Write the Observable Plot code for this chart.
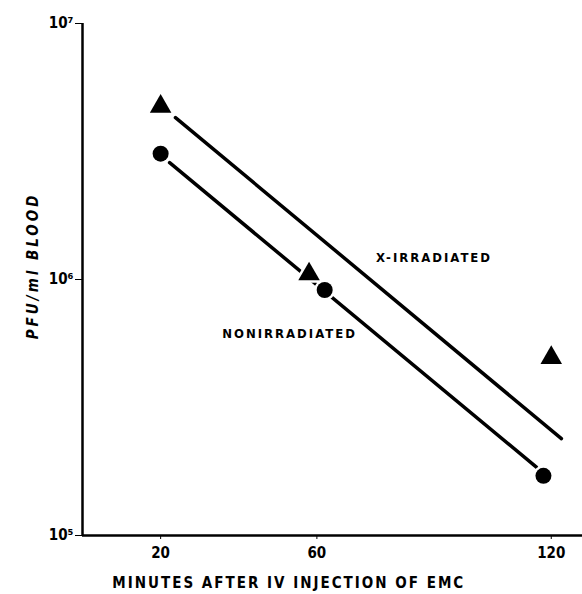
<!DOCTYPE html>
<html>
<head>
<meta charset="utf-8">
<script src="https://cdn.jsdelivr.net/npm/d3@7"></script>
<script src="https://cdn.jsdelivr.net/npm/@observablehq/plot@0.6"></script>
<style>
  html, body { margin: 0; padding: 0; background: #fff; }
  #chart svg { display: block; }
  #chart svg g[aria-label^="x-axis"] text,
  #chart svg g[aria-label^="y-axis"] text { font-size: 15px !important; font-weight: bold; }
</style>
</head>
<body>
<div id="chart"></div>
<script>
// Data
const xIrrMinutes = [20, 58, 120];
const xIrrPFU = [4.74e6, 1.05e6, 4.95e5];
const nonIrrMinutes = [20, 62, 118];
const nonIrrPFU = [3.1e6, 9.1e5, 1.71e5];
// fitted regression lines (end points)
const xIrrFitMinutes = [23.8, 122.6];
const xIrrFitPFU = [4.29e6, 2.39e5];
const nonIrrFitMinutes = [22.3, 116.2];
const nonIrrFitPFU = [2.86e6, 1.85e5];
// axes
const xTicks = [20, 60, 120];
const yTicks = [1e5, 1e6, 1e7];
const sup = {"5": "\u2075", "6": "\u2076", "7": "\u2077"};

const tri = xIrrMinutes.map((m, i) => ({m, v: xIrrPFU[i]}));
const circ = nonIrrMinutes.map((m, i) => ({m, v: nonIrrPFU[i]}));
const fitX = xIrrFitMinutes.map((m, i) => ({m, v: xIrrFitPFU[i]}));
const fitN = nonIrrFitMinutes.map((m, i) => ({m, v: nonIrrFitPFU[i]}));

const chart = Plot.plot({
  width: 582,
  height: 594,
  marginLeft: 82,
  marginRight: 0,
  marginTop: 23,
  marginBottom: 59,
  style: {fontFamily: "'DejaVu Sans Condensed', 'DejaVu Sans', sans-serif", fontSize: "14px", fontWeight: "bold", color: "#000", background: "#fff"},
  x: {domain: [0, 128], ticks: xTicks, tickSize: 4, tickPadding: 8, label: null, tickFormat: d => String(d)},
  y: {type: "log", domain: [1e5, 1e7], ticks: yTicks, tickSize: 7, tickPadding: 2, label: null,
      tickFormat: d => "10" + sup[String(Math.round(Math.log10(d)))]},
  marks: [
    Plot.ruleX([0], {stroke: "#000", strokeWidth: 2.5}),
    Plot.ruleY([1e5], {stroke: "#000", strokeWidth: 2.5}),
    Plot.line(fitX, {x: "m", y: "v", stroke: "#000", strokeWidth: 3.5}),
    Plot.line(fitN, {x: "m", y: "v", stroke: "#000", strokeWidth: 3.5}),
    Plot.dot(tri, {x: "m", y: "v", symbol: "triangle", r: 8, fill: "#000", stroke: "#fff", strokeWidth: 5, paintOrder: "stroke"}),
    Plot.dot(circ, {x: "m", y: "v", symbol: "circle", r: 8, fill: "#000", stroke: "#fff", strokeWidth: 5, paintOrder: "stroke"}),
    Plot.text(["X-IRRADIATED"], {x: 90, y: 1.21e6, fontSize: 13, fontWeight: "bold"}),
    Plot.text(["NONIRRADIATED"], {x: 53, y: 6.15e5, fontSize: 13, fontWeight: "bold"}),
    Plot.text(["PFU/ml BLOOD"], {x: 0, y: 1.13e6, rotate: -90, dx: -49, fontSize: 15, fontStyle: "italic", fontWeight: "bold"}),
    Plot.text(["MINUTES AFTER IV INJECTION OF EMC"], {x: 52.8, y: 1e5, dy: 48, fontSize: 15, fontWeight: "bold"})
  ]
});
d3.select(chart).selectAll("g[aria-label='text'] text").style("letter-spacing", "2px");
d3.select(chart).selectAll("g[aria-label='text'] text").filter(function() { return this.textContent === "PFU/ml BLOOD"; }).style("letter-spacing", "3px");
document.getElementById("chart").appendChild(chart);
</script>
</body>
</html>
